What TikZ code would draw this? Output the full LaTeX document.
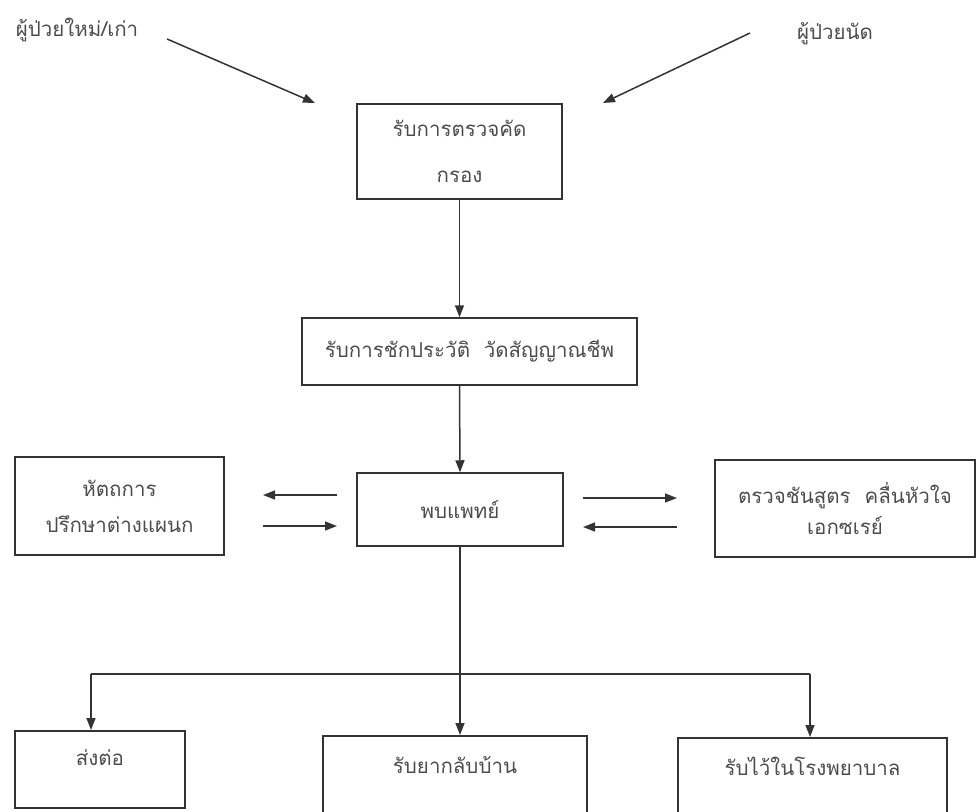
\documentclass[tikz,border=0pt]{standalone}
\usepackage{fontspec}
\newfontfamily\thaifont[Script=Thai]{Loma}
\usetikzlibrary{arrows.meta}

\begin{document}
\begin{tikzpicture}[x=1pt, y=-1pt, font=\thaifont\fontsize{20.5}{24}\selectfont,
	box/.style = {draw=black!80, line width=1.5pt, text=black!70, align=center, inner sep=0pt},
	lbl/.style = {text=black!70, inner sep=0pt},
	arr/.style = {-{Triangle[length=12pt, width=9pt]}, draw=black!80, line width=1.5pt},
	ln/.style = {draw=black!80, line width=1.5pt}]
	\useasboundingbox (0,0) rectangle (976,811);
	% patients
	\node[lbl] (newpt) at (77,30) {ผู้ป่วยใหม่/เก่า};
	\node[lbl] (apptpt) at (835,34) {ผู้ป่วยนัด};
	\coordinate (newfrom) at (167,39);
	\coordinate (newto) at (315,103);
	\coordinate (apptfrom) at (750,33);
	\coordinate (apptto) at (603,103);
	% main column
	\node[box, minimum width=205pt, minimum height=95pt] (screen) at (459.5,151.5) {รับการตรวจคัด\\[22pt]กรอง};
	\node[box, minimum width=335pt, minimum height=67pt] (hist) at (469.5,351.5) {รับการชักประวัติ\ \ วัดสัญญาณชีพ};
	\node[box, minimum width=206pt, minimum height=73pt] (doc) at (460,509.5) {พบแพทย์};
	\node[box, minimum width=209pt, minimum height=98pt] (consult) at (119.5,506) {หัตถการ\\[12pt]ปรึกษาต่างแผนก};
	\node[box, minimum width=260pt, minimum height=97pt] (lab) at (845,508.5) {ตรวจชันสูตร\ \ คลื่นหัวใจ\\[7pt]เอกซเรย์};
	% results
	\node[box, anchor=north, minimum width=170pt, text height=35pt, text depth=42pt] (refer) at (100,730) {ส่งต่อ};
	\node[box, anchor=north, minimum width=264pt, text height=38pt, text depth=60pt] (home) at (455,735) {รับยากลับบ้าน};
	\node[box, anchor=north, minimum width=269pt, text height=38pt, text depth=60pt] (admit) at (812.5,737) {รับไว้ในโรงพยาบาล};
	% side arrows
	\coordinate (cl1) at (337,495);
	\coordinate (cl2) at (263,495);
	\coordinate (cl3) at (263,526);
	\coordinate (cl4) at (337,526);
	\coordinate (lb1) at (583,498);
	\coordinate (lb2) at (677,498);
	\coordinate (lb3) at (677,527);
	\coordinate (lb4) at (583,527);
	\coordinate (split) at (91,674);
	\coordinate (splitr) at (810,674);
	\draw[arr] (newfrom) -- (newto);
	\draw[arr] (apptfrom) -- (apptto);
	\draw[arr] (screen.south) -- (screen.south |- hist.north);
	\draw[arr] (screen.south |- hist.south) -- (doc.north);
	\draw[arr] (cl1) -- (cl2);
	\draw[arr] (cl3) -- (cl4);
	\draw[arr] (lb1) -- (lb2);
	\draw[arr] (lb3) -- (lb4);
	\draw[arr] (doc.south) -- (doc.south |- home.north);
	\draw[ln] (split) -- (splitr);
	\draw[arr] (split) -- (split |- refer.north);
	\draw[arr] (splitr) -- (splitr |- admit.north);
\end{tikzpicture}
\end{document}
